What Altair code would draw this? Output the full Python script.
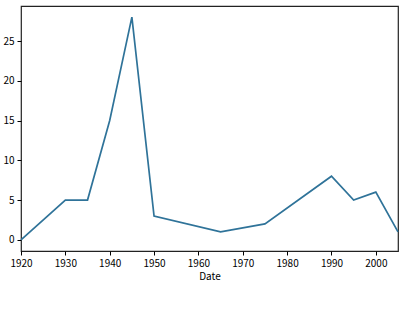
import altair as alt
import pandas as pd

years = [1920, 1930, 1935, 1940, 1945, 1950, 1965, 1975, 1990, 1995, 2000, 2005]
values = [0, 5, 5, 15, 28, 3, 1, 2, 8, 5, 6, 1]
x_ticks = [1920, 1930, 1940, 1950, 1960, 1970, 1980, 1990, 2000]
y_ticks = [0, 5, 10, 15, 20, 25]

df = pd.DataFrame({"Date": years, "value": values})

font = "Noto Sans CJK SC"

chart = alt.Chart(df).mark_line(color="#2f7399", strokeWidth=1.7).encode(
    x=alt.X("Date:Q",
            scale=alt.Scale(domain=[1920, 2005], nice=False, zero=False),
            axis=alt.Axis(values=x_ticks, format="d", title="Date", grid=False,
                          domain=False, tickColor="black", tickSize=4,
                          labelFlush=False, labelOverlap=False,
                          labelFontSize=10, labelFont=font, labelColor="black",
                          labelPadding=3, titleFont=font, titleFontSize=10,
                          titleFontWeight="normal", titleColor="black",
                          titlePadding=3)),
    y=alt.Y("value:Q",
            scale=alt.Scale(domain=[-1.4, 29.4], nice=False, zero=False),
            axis=alt.Axis(values=y_ticks, title=None, grid=False, domain=False,
                          labelFlush=False, labelOverlap=False,
                          tickColor="black", tickSize=4, labelFontSize=10,
                          labelFont=font, labelColor="black", labelPadding=3)),
).properties(
    width=377, height=245,
    background="white",
    autosize=alt.AutoSizeParams(type="none"),
    padding={"left": 21, "top": 6, "right": 5, "bottom": 63},
).configure_view(stroke="#222222", strokeWidth=1.2)

chart.save("out.html", embed_options={"renderer": "svg", "actions": False})
